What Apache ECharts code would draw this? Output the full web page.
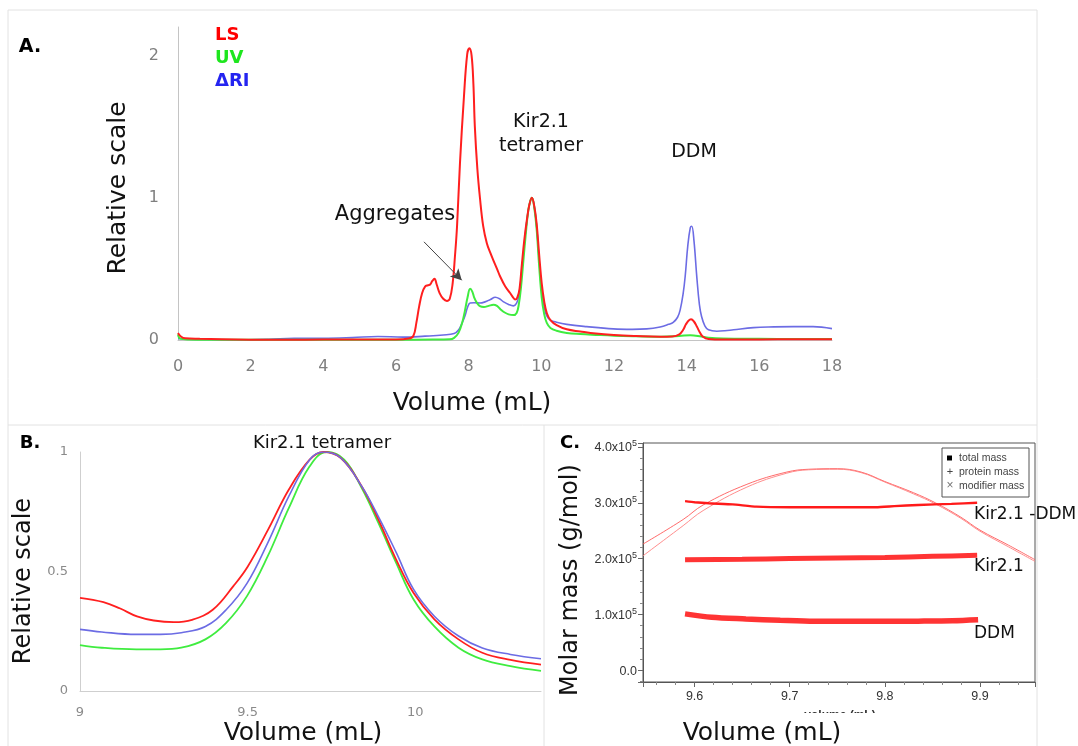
<!DOCTYPE html>
<html>
<head>
<meta charset="utf-8">
<script src="https://cdn.jsdelivr.net/npm/echarts@6/dist/echarts.min.js"></script>
<style>
html,body{margin:0;padding:0;background:#fff;}
#chart{width:1078px;height:746px;}
</style>
</head>
<body>
<div id="chart"></div>
<script>
// ---------- Panel A : full chromatogram (volume mL, relative scale) ----------
const lsA = [[0,0.05],[0.08,0.025],[0.2,0.012],[0.6,0.008],[1.2,0.005],[2,0.002],[3,0.001],[4,0.003],[5,0.004],[6,0.004],[6.35,0.01],[6.48,0.03],[6.56,0.12],[6.64,0.24],[6.72,0.33],[6.8,0.375],[6.88,0.385],[6.94,0.39],[7.0,0.415],[7.06,0.43],[7.12,0.39],[7.2,0.33],[7.3,0.29],[7.4,0.275],[7.48,0.29],[7.56,0.4],[7.62,0.58],[7.68,0.8],[7.76,1.24],[7.87,1.71],[7.96,2.01],[8.02,2.05],[8.08,2.0],[8.13,1.8],[8.17,1.5],[8.24,1.2],[8.31,1.0],[8.4,0.8],[8.5,0.68],[8.6,0.61],[8.68,0.56],[8.78,0.5],[8.86,0.45],[9.0,0.38],[9.14,0.33],[9.22,0.3],[9.28,0.285],[9.34,0.3],[9.4,0.36],[9.46,0.52],[9.53,0.7],[9.6,0.84],[9.67,0.95],[9.74,1.0],[9.8,0.95],[9.87,0.82],[9.94,0.6],[10.01,0.4],[10.08,0.27],[10.15,0.19],[10.25,0.14],[10.42,0.105],[10.7,0.075],[11.07,0.06],[11.5,0.045],[12,0.035],[12.6,0.028],[13.27,0.023],[13.6,0.025],[13.8,0.04],[13.9,0.07],[13.98,0.11],[14.05,0.135],[14.12,0.145],[14.2,0.13],[14.28,0.095],[14.36,0.055],[14.44,0.025],[14.6,0.007],[15,0.003],[16,0.004],[17,0.006],[18,0.006]];
const uvA = [[0,0.04],[0.06,0.01],[0.3,0.004],[1,0.002],[2,0.001],[3,0.001],[4,0.001],[5,0.002],[6,0.002],[7,0.003],[7.48,0.005],[7.6,0.015],[7.72,0.05],[7.82,0.12],[7.9,0.21],[7.97,0.3],[8.04,0.36],[8.1,0.34],[8.15,0.3],[8.23,0.26],[8.31,0.238],[8.42,0.232],[8.55,0.24],[8.68,0.248],[8.78,0.24],[8.88,0.215],[8.98,0.195],[9.1,0.18],[9.23,0.175],[9.32,0.19],[9.38,0.25],[9.44,0.37],[9.5,0.54],[9.57,0.74],[9.64,0.91],[9.7,0.98],[9.74,1.0],[9.8,0.94],[9.87,0.78],[9.94,0.52],[10.01,0.3],[10.08,0.18],[10.15,0.12],[10.25,0.085],[10.42,0.065],[10.7,0.05],[11.07,0.042],[11.5,0.036],[12,0.03],[12.6,0.026],[13.3,0.023],[13.8,0.028],[14.1,0.034],[14.4,0.025],[14.6,0.016],[15,0.01],[16,0.008],[17,0.007],[18,0.007]];
const riA = [[0,0.01],[0.5,0.003],[1.5,0.001],[2.5,0.005],[3.2,0.012],[4,0.012],[4.8,0.017],[5.5,0.025],[6.2,0.02],[6.8,0.027],[7.3,0.035],[7.6,0.045],[7.72,0.07],[7.82,0.12],[7.9,0.17],[7.97,0.23],[8.04,0.26],[8.15,0.262],[8.31,0.26],[8.45,0.268],[8.6,0.285],[8.73,0.30],[8.85,0.29],[8.95,0.27],[9.1,0.25],[9.23,0.24],[9.32,0.26],[9.38,0.31],[9.44,0.43],[9.5,0.585],[9.57,0.77],[9.64,0.91],[9.7,0.98],[9.74,1.0],[9.8,0.95],[9.87,0.80],[9.94,0.56],[10.01,0.35],[10.08,0.23],[10.15,0.17],[10.25,0.14],[10.42,0.125],[10.7,0.11],[11.25,0.094],[11.98,0.078],[12.5,0.075],[12.9,0.078],[13.27,0.092],[13.5,0.11],[13.63,0.124],[13.75,0.16],[13.82,0.21],[13.9,0.32],[13.96,0.45],[14.03,0.66],[14.1,0.79],[14.14,0.8],[14.2,0.7],[14.28,0.44],[14.35,0.25],[14.41,0.165],[14.5,0.1],[14.6,0.072],[14.83,0.062],[15.05,0.065],[15.29,0.072],[15.84,0.087],[16.4,0.092],[16.94,0.094],[17.48,0.094],[18,0.08]];

// ---------- Panel B : Kir2.1 tetramer zoom ----------
const lsB = [[9.0,0.39],[9.07,0.372],[9.12,0.345],[9.17,0.312],[9.22,0.295],[9.28,0.288],[9.334,0.298],[9.396,0.34],[9.458,0.44],[9.5,0.52],[9.561,0.675],[9.623,0.843],[9.685,0.968],[9.726,1.0],[9.778,0.975],[9.84,0.857],[9.89,0.717],[9.943,0.55],[9.995,0.41],[10.057,0.30],[10.129,0.216],[10.2,0.16],[10.284,0.13],[10.375,0.11]];
const uvB = [[9.0,0.192],[9.065,0.181],[9.168,0.174],[9.24,0.174],[9.302,0.181],[9.374,0.216],[9.436,0.285],[9.498,0.397],[9.56,0.564],[9.623,0.766],[9.685,0.94],[9.736,1.0],[9.788,0.968],[9.84,0.85],[9.89,0.703],[9.943,0.536],[9.995,0.383],[10.057,0.27],[10.129,0.181],[10.2,0.132],[10.284,0.104],[10.375,0.084]];
const riB = [[9.0,0.258],[9.065,0.247],[9.168,0.237],[9.24,0.237],[9.302,0.244],[9.374,0.27],[9.436,0.34],[9.498,0.45],[9.56,0.62],[9.623,0.815],[9.685,0.968],[9.726,1.0],[9.778,0.975],[9.84,0.857],[9.89,0.73],[9.943,0.58],[9.995,0.425],[10.057,0.313],[10.129,0.23],[10.2,0.18],[10.284,0.153],[10.375,0.135]];

// ---------- Panel C : molar mass (g/mol) vs volume (mL) ----------
const totalMassC = [[9.59,3.03e5],[9.6,3.01e5],[9.615,2.99e5],[9.64,2.97e5],[9.665,2.93e5],[9.7,2.92e5],[9.75,2.92e5],[9.791,2.92e5],[9.81,2.94e5],[9.835,2.96e5],[9.87,2.98e5],[9.897,3.0e5]];
const proteinMassC = [[9.59,1.98e5],[9.65,1.99e5],[9.7,2.0e5],[9.75,2.01e5],[9.8,2.02e5],[9.85,2.04e5],[9.897,2.06e5]];
const modifierMassC = [[9.59,1.01e5],[9.618,0.95e5],[9.654,0.92e5],[9.69,0.895e5],[9.726,0.877e5],[9.8,0.877e5],[9.835,0.88e5],[9.871,0.887e5],[9.898,0.905e5]];
const signalC1 = [[9.5458,2.26e5],[9.588,2.7e5],[9.609,2.96e5],[9.655,3.33e5],[9.697,3.55e5],[9.72,3.6e5],[9.75,3.61e5],[9.775,3.55e5],[9.8,3.38e5],[9.83,3.18e5],[9.853,3.0e5],[9.88,2.74e5],[9.9,2.51e5],[9.93,2.24e5],[9.9578,1.98e5]];
const signalC2 = [[9.5458,2.05e5],[9.588,2.59e5],[9.609,2.86e5],[9.655,3.28e5],[9.697,3.53e5],[9.72,3.59e5],[9.75,3.6e5],[9.775,3.54e5],[9.8,3.37e5],[9.83,3.16e5],[9.853,2.98e5],[9.88,2.72e5],[9.9,2.49e5],[9.93,2.21e5],[9.9578,1.95e5]];

const RED = '#ff1f1f', GREEN = '#3fec3f', BLUE = '#6c6ce4';
const FONT = '"DejaVu Sans", Verdana, sans-serif';
const chart = echarts.init(document.getElementById('chart'), null, {renderer: 'canvas'});

function lineSeries(name, data, color, xi, width, extra) {
  return Object.assign({
    name: name, type: 'line', data: data, xAxisIndex: xi, yAxisIndex: xi,
    showSymbol: false, symbol: 'none', smooth: 0.4,
    lineStyle: {color: color, width: width}, itemStyle: {color: color},
    silent: true, animation: false
  }, extra || {});
}
function txt(text, x, y, font, fill, opts, align) {
  const a = align || 'center';
  return Object.assign({
    type: 'text', x: x, y: y, z: 100,
    style: {text: text, font: font, fill: fill || '#111',
      align: a, verticalAlign: 'middle', textAlign: a, textVerticalAlign: 'middle'}
  }, opts || {});
}
function sup5(v) {
  const k = Math.round(v / 1e5);
  if (Math.abs(v - k * 1e5) > 1) return '';
  if (k === 0) return '{a|0.0}';
  return '{a|' + k.toFixed(1) + 'x10}{b|5}';
}

const option = {
  backgroundColor: '#ffffff',
  animation: false,
  grid: [
    {left: 178, top: 27, width: 654, height: 313},
    {left: 80, top: 452, width: 461, height: 239},
    {left: 643, top: 443, width: 392, height: 239, show: true, borderColor: '#555', borderWidth: 1, backgroundColor: 'transparent'}
  ],
  xAxis: [
    {gridIndex: 0, type: 'value', min: 0, max: 18, interval: 2,
     axisLine: {lineStyle: {color: '#c4c4c4'}}, axisTick: {show: false}, splitLine: {show: false},
     axisLabel: {color: '#7f7f7f', fontSize: 16, fontFamily: 'DejaVu Sans', margin: 19}},
    {gridIndex: 1, type: 'value', min: 9, max: 10.375, interval: 0.5,
     axisLine: {lineStyle: {color: '#cfcfcf'}}, axisTick: {show: false}, splitLine: {show: false},
     axisLabel: {color: '#8a8a8a', fontSize: 13, fontFamily: 'DejaVu Sans', margin: 15,
       formatter: v => (Math.abs(v * 2 - Math.round(v * 2)) < 1e-6 ? String(v) : '')}},
    {gridIndex: 2, type: 'value', min: 9.5458, max: 9.9578, splitNumber: 4,
     axisLine: {onZero: false, lineStyle: {color: '#555'}},
     axisTick: {show: true, length: 5, lineStyle: {color: '#666'}},
     minorTick: {show: true, splitNumber: 5, length: 3, lineStyle: {color: '#888'}},
     splitLine: {show: false},
     axisLabel: {color: '#333', fontSize: 12.5, fontFamily: 'Liberation Sans', margin: 8,
       formatter: v => (Math.abs(v * 10 - Math.round(v * 10)) < 1e-6 ? v.toFixed(1) : '')}}
  ],
  yAxis: [
    {gridIndex: 0, type: 'value', min: 0, max: 2.2, interval: 1,
     axisLine: {show: true, lineStyle: {color: '#c4c4c4'}}, axisTick: {show: false}, splitLine: {show: false},
     axisLabel: {color: '#7f7f7f', fontSize: 16, fontFamily: 'DejaVu Sans', margin: 19,
       formatter: v => (Math.abs(v - Math.round(v)) < 1e-9 ? String(v) : '')}},
    {gridIndex: 1, type: 'value', min: 0, max: 1, interval: 0.5,
     axisLine: {show: true, lineStyle: {color: '#cfcfcf'}}, axisTick: {show: false}, splitLine: {show: false},
     axisLabel: {color: '#8a8a8a', fontSize: 13, fontFamily: 'DejaVu Sans', margin: 12}},
    {gridIndex: 2, type: 'value', min: -21000, max: 407000, splitNumber: 4,
     axisLine: {show: true, onZero: false, lineStyle: {color: '#555'}},
     axisTick: {show: true, length: 5, lineStyle: {color: '#666'}},
     minorTick: {show: true, splitNumber: 5, length: 3, lineStyle: {color: '#888'}},
     splitLine: {show: false},
     axisLabel: {margin: 6, formatter: sup5,
       rich: {a: {fontSize: 12.5, fontFamily: 'Liberation Sans', color: '#333', lineHeight: 15, verticalAlign: 'bottom'},
              b: {fontSize: 9, fontFamily: 'Liberation Sans', color: '#333', lineHeight: 8, verticalAlign: 'top'}}}}
  ],
  series: [
    lineSeries('ΔRI', riA, BLUE, 0, 1.6),
    lineSeries('UV', uvA, GREEN, 0, 2),
    lineSeries('LS', lsA, RED, 0, 2, {
      markLine: {silent: true, symbol: ['none', 'arrow'], symbolSize: [9, 11], label: {show: false},
        lineStyle: {color: '#444', width: 1, type: 'solid'},
        data: [[{coord: [6.77, 0.69]}, {coord: [7.81, 0.42]}]]}
    }),
    lineSeries('UV B', uvB, GREEN, 1, 1.8),
    lineSeries('LS B', lsB, RED, 1, 1.8),
    lineSeries('ΔRI B', riB, BLUE, 1, 1.6),
    lineSeries('signal 1', signalC1, '#ff5a5a', 2, 0.9),
    lineSeries('signal 2', signalC2, '#ff8080', 2, 0.9),
    lineSeries('modifier mass', modifierMassC, '#ff3434', 2, 5.5, {smooth: 0.3}),
    lineSeries('protein mass', proteinMassC, '#ff3434', 2, 5, {smooth: 0.3}),
    lineSeries('total mass', totalMassC, '#ff1a1a', 2, 2.4, {smooth: 0.15})
  ],
  graphic: [
    // panel frames
    {type: 'rect', z: 1, shape: {x: 8, y: 10, width: 1029, height: 745}, style: {fill: 'none', stroke: '#e2e2e2', lineWidth: 1}},
    {type: 'line', z: 1, shape: {x1: 8, y1: 425, x2: 1037, y2: 425}, style: {stroke: '#e2e2e2', lineWidth: 1}},
    {type: 'line', z: 1, shape: {x1: 544, y1: 425, x2: 544, y2: 746}, style: {stroke: '#e2e2e2', lineWidth: 1}},
    // Panel A texts
    txt('A.', 30, 47, 'bold 19px ' + FONT, '#000'),
    txt('LS', 215, 35, 'bold 18px ' + FONT, '#ff0000', null, 'left'),
    txt('UV', 215, 58, 'bold 18px ' + FONT, '#1ee61e', null, 'left'),
    txt('ΔRI', 215, 81, 'bold 18px ' + FONT, '#2424f0', null, 'left'),
    txt('Relative scale', 118, 188, '25px ' + FONT, '#111', {rotation: Math.PI / 2}),
    txt('Volume (mL)', 472, 403, '25px ' + FONT, '#111'),
    txt('Kir2.1', 541, 122, '19px ' + FONT, '#111'),
    txt('tetramer', 541, 146, '19px ' + FONT, '#111'),
    txt('DDM', 694, 152, '19px ' + FONT, '#111'),
    txt('Aggregates', 395, 215, '21px ' + FONT, '#111'),
    // Panel B texts
    txt('B.', 30, 443, 'bold 18px ' + FONT, '#000'),
    txt('Kir2.1 tetramer', 322, 443, '18px ' + FONT, '#111'),
    txt('Relative scale', 24, 581, '24px ' + FONT, '#111', {rotation: Math.PI / 2}),
    txt('Volume (mL)', 303, 733, '25px ' + FONT, '#111'),
    // Panel C texts
    txt('C.', 570, 443, 'bold 18px ' + FONT, '#000'),
    txt('Molar mass (g/mol)', 571, 580, '24px ' + FONT, '#111', {rotation: Math.PI / 2}),
    txt('volume (mL)', 840, 716, 'bold 12px "Liberation Sans"', '#333', {z: 90}),
    {type: 'rect', z: 95, shape: {x: 640, y: 713, width: 390, height: 33}, style: {fill: '#fff'}},
    txt('Volume (mL)', 762, 733, '25px ' + FONT, '#111', {z: 110}),
    txt('Kir2.1 -DDM', 974, 515, '17px ' + FONT, '#111', null, 'left'),
    txt('Kir2.1', 974, 567, '17px ' + FONT, '#111', null, 'left'),
    txt('DDM', 974, 634, '17px ' + FONT, '#111', null, 'left'),
    // Panel C legend box
    {type: 'rect', z: 100, shape: {x: 942, y: 448, width: 87, height: 49}, style: {fill: '#fff', stroke: '#555', lineWidth: 1}},
    {type: 'rect', z: 101, shape: {x: 947, y: 455.5, width: 5, height: 5}, style: {fill: '#000'}},
    txt('+', 950, 472, '11px "Liberation Sans"', '#444', {z: 101}),
    txt('×', 950, 486, '12px "Liberation Sans"', '#777', {z: 101}),
    txt('total mass', 959, 458, '10.5px "Liberation Sans"', '#444', {z: 101}, 'left'),
    txt('protein mass', 959, 472, '10.5px "Liberation Sans"', '#444', {z: 101}, 'left'),
    txt('modifier mass', 959, 486, '10.5px "Liberation Sans"', '#444', {z: 101}, 'left')
  ]
};
chart.setOption(option);
</script>
</body>
</html>
